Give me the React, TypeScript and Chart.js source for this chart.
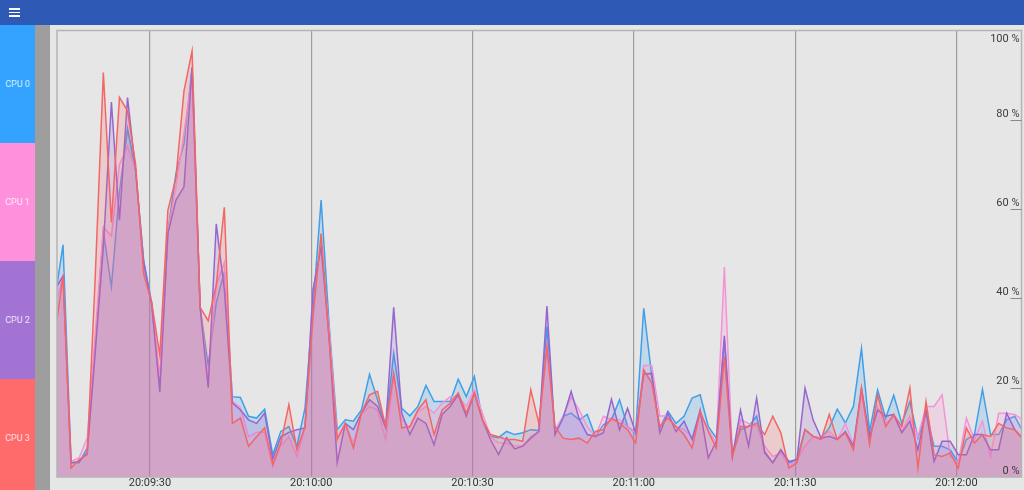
import React, { useEffect, useRef } from 'react';
import { Chart, registerables } from 'chart.js';

Chart.register(...registerables);

// ---- data ----
const CPU_LABELS = ['CPU 0', 'CPU 1', 'CPU 2', 'CPU 3'];
// sample times: seconds after 20:09:00, one sample every 1.5 s
const SAMPLE_START = 12.34;
const SAMPLE_STEP = 1.5;
const X_MIN = 12.72;
const X_MAX = 192.1;
const X_TICK_SECONDS = [30, 60, 90, 120, 150, 180];
const X_TICK_LABELS = ['20:09:30', '20:10:00', '20:10:30', '20:11:00', '20:11:30', '20:12:00'];
const Y_TICKS = [0, 20, 40, 60, 80, 100];
const Y_TICK_LABELS = ['0 %', '20 %', '40 %', '60 %', '80 %', '100 %'];

const cpu0 = [
  40, 52, 3.2, 3.2, 6.5, 30, 55, 42.6, 64, 78,
  68.6, 48.5, 39, 21, 55, 68, 74.6, 91.7, 38, 25,
  39, 46, 18, 17.8, 13.6, 13.2, 15.2, 5, 10.2, 11.3,
  6.9, 15.4, 38, 62, 34, 10.6, 12.8, 12.5, 15, 23,
  17.3, 11.3, 27.7, 15.4, 13.7, 15.8, 20.5, 16.9, 16.9, 16.9,
  21.9, 18, 22.5, 12.8, 9.1, 8.8, 10.2, 9.5, 9.9, 10.6,
  10.4, 33.7, 9.9, 13.6, 14.3, 12.8, 14, 9.1, 11.7, 12.8,
  17.3, 11.3, 9.9, 37.8, 22.5, 11, 14.7, 12, 13.6, 17.7,
  18.4, 11.3, 8.7, 30.7, 5, 10.6, 11.3, 13.6, 5.8, 3.2,
  6.1, 3.2, 3.9, 10.6, 9.1, 8.7, 11, 15.2, 12.1, 15.8,
  28.8, 10.2, 19.5, 13.2, 18.3, 12, 16.9, 8.7, 14.3, 6.9,
  6.9, 6.1, 3.2, 8.4, 9.5, 19.6, 9.5, 9.5, 12.8, 13.6,
  10.2,
];
const cpu1 = [
  38, 45, 3.5, 4.3, 8.7, 32, 56, 54, 70, 74,
  69, 47, 39, 22.5, 55, 65, 77, 90, 38, 22,
  43, 48, 17, 15.5, 9, 10, 10, 2.4, 7, 9,
  4.6, 11, 42, 51.5, 33, 9, 12, 7.6, 14, 15.8,
  15, 8.4, 22.5, 13, 11, 14.5, 15.8, 14.3, 16.5, 18,
  18, 15.8, 19.5, 14.3, 9, 7.6, 7.6, 7, 7, 9.1,
  10.2, 30, 10.5, 13.6, 18, 15, 11.3, 9.1, 13.6, 12.8,
  12.8, 11.3, 9.9, 25, 25, 13.6, 13.8, 11.3, 10.6, 9,
  14.3, 10.6, 7.6, 47, 4.6, 12.8, 12, 11.3, 6.9, 4.6,
  5.4, 2.5, 3.9, 6.9, 9.1, 8.7, 10.2, 8.4, 12, 7.3,
  18.8, 8.4, 15.8, 12, 13.6, 10.2, 13.6, 9.1, 15.8, 15.8,
  18.4, 4.6, 3.2, 13.2, 8.4, 12.5, 4.6, 14.3, 14.3, 14,
  12.8,
];
const cpu2 = [
  42, 45, 3.2, 3.5, 5.4, 28, 51.5, 84, 57.5, 85,
  68.6, 48, 38.5, 19, 54.5, 62, 65, 91.7, 38, 20,
  56.7, 42, 16.6, 15, 12.8, 12, 14.3, 4, 9, 10,
  10.6, 11, 42, 51.5, 31, 3.2, 12, 10.6, 14.3, 17.3,
  15.8, 11, 38, 14.3, 9.5, 13.2, 12, 7.2, 14, 15.8,
  18.4, 13.6, 18.8, 12.8, 8.4, 5, 8.8, 6.3, 6.9, 8.7,
  10.2, 38.3, 9.5, 13.2, 19.2, 13, 9.5, 9.1, 9.9, 17.4,
  10.6, 15.4, 9.9, 23, 23.2, 9.9, 14.3, 10.2, 12.5, 8.4,
  15, 4.3, 8, 31.6, 4.6, 15, 6.9, 17.7, 5.4, 3.2,
  6.1, 3.5, 3.9, 19.9, 12.8, 8.7, 9.1, 8.4, 10.2, 6.9,
  19.9, 9.1, 15, 13.6, 14, 9.9, 12.5, 6.1, 15, 3.5,
  8, 8, 5, 5, 9.5, 9.5, 6.1, 6.1, 14.3, 10.6,
  8.7,
];
const cpu3 = [
  32, 45, 2, 3.9, 5, 45, 90.6, 57, 85, 82,
  70, 45.5, 39, 27.3, 59.7, 67, 86.5, 95.4, 38, 35,
  43, 60.4, 12, 13.2, 6.9, 9, 11, 2.8, 7.6, 16.2,
  6.1, 11.3, 36, 54.5, 30.7, 8.4, 12, 6.5, 14.3, 18.4,
  19.2, 11.3, 23.2, 11, 11.3, 15, 17.3, 9.5, 15, 16.5,
  18.8, 14.3, 18.8, 12.8, 9.5, 9, 8.4, 8.4, 8, 19.5,
  12, 29, 11.3, 8.7, 8.4, 8.7, 7.6, 10.2, 10.6, 13.2,
  12, 10.6, 7.6, 24, 21, 11.3, 13.2, 11.3, 9.5, 6.5,
  14.7, 10.2, 6.5, 27, 4.6, 11.3, 11.3, 12, 9.5, 13.6,
  9.9, 2, 3.2, 10.6, 9.1, 8.4, 14, 8.4, 9.9, 6.1,
  19.9, 7.3, 18.4, 11.3, 14, 11.3, 19.9, 2, 16.9, 5,
  4.6, 5.4, 2, 11, 7.6, 9.5, 9.1, 12, 11, 10.6,
  8.4,
];

const SERIES = [cpu0, cpu1, cpu2, cpu3];
const LINE_COLORS = ['#3f9fe8', '#f394d6', '#9466d0', '#f26666'];
const FILL_COLORS = [
  'rgba(51,160,240,0.2)',
  'rgba(255,136,216,0.2)',
  'rgba(154,102,208,0.2)',
  'rgba(255,102,102,0.2)',
];
const LEGEND_COLORS = ['#33a3ff', '#ff90dc', '#a373d4', '#ff6a6a'];

const FONT = 'Roboto, "Noto Sans", sans-serif';

const framePlugin = {
  id: 'frame',
  afterDraw(chart: any) {
    const { ctx, chartArea } = chart;
    const y = chart.scales.y;
    ctx.save();
    ctx.strokeStyle = '#b4b4b4';
    ctx.lineWidth = 1.5;
    ctx.strokeRect(chartArea.left, chartArea.top, chartArea.right - chartArea.left, chartArea.bottom - chartArea.top);
    ctx.strokeStyle = '#8a8a8a';
    ctx.lineWidth = 1;
    ctx.font = `11px ${FONT}`;
    ctx.fillStyle = '#3c3c3c';
    ctx.textAlign = 'right';
    Y_TICKS.forEach((v, i) => {
      const py = y.getPixelForValue(v);
      if (v !== 0 && v !== 100) {
        const ly = Math.round(py) + 0.5;
        ctx.beginPath();
        ctx.moveTo(chartArea.right - 11, ly);
        ctx.lineTo(chartArea.right, ly);
        ctx.stroke();
      }
      if (v === 100) {
        ctx.textBaseline = 'top';
        ctx.fillText(Y_TICK_LABELS[i], chartArea.right - 2, py + 3);
      } else {
        ctx.textBaseline = 'bottom';
        ctx.fillText(Y_TICK_LABELS[i], chartArea.right - 2, py - 0.5);
      }
    });
    ctx.restore();
  },
};

function CpuChart() {
  const ref = useRef<HTMLCanvasElement | null>(null);
  useEffect(() => {
    if (!ref.current) return;
    const datasets = SERIES.map((values, i) => ({
      label: CPU_LABELS[i],
      data: values.map((v, j) => ({ x: SAMPLE_START + SAMPLE_STEP * j, y: v })),
      borderColor: LINE_COLORS[i],
      backgroundColor: FILL_COLORS[i],
      borderWidth: 1.5,
      fill: 'origin',
      pointRadius: 0,
      tension: 0,
      order: 3 - i,
    }));
    const chart = new Chart(ref.current, {
      type: 'line',
      data: { datasets },
      plugins: [framePlugin],
      options: {
        responsive: false,
        animation: false,
        maintainAspectRatio: false,
        layout: { padding: { left: 7, top: 5.5, right: 2.5, bottom: 0 } },
        plugins: { legend: { display: false }, tooltip: { enabled: false } },
        scales: {
          x: {
            type: 'linear',
            min: X_MIN,
            max: X_MAX,
            afterBuildTicks: (scale: any) => {
              scale.ticks = X_TICK_SECONDS.map((v) => ({ value: v }));
            },
            ticks: {
              autoSkip: false,
              maxRotation: 0,
              padding: 1,
              color: '#333333',
              font: { family: FONT, size: 11, lineHeight: 1 },
              callback: (value: any) => X_TICK_LABELS[X_TICK_SECONDS.indexOf(Number(value))] ?? '',
            },
            grid: { color: '#9c9c9c', lineWidth: 1.2, drawTicks: false },
            border: { display: false },
          },
          y: {
            display: false,
            position: 'right',
            min: 0,
            max: 100,
          },
        },
      },
    });
    return () => chart.destroy();
  }, []);
  return (
    <canvas
      ref={ref}
      width={974}
      height={465}
      style={{ position: 'absolute', left: 50, top: 25, width: 974, height: 465, display: 'block' }}
    />
  );
}

export default function App() {
  return (
    <div
      style={{
        position: 'absolute',
        left: 0,
        top: 0,
        width: 1024,
        height: 490,
        overflow: 'hidden',
        background: '#e6e6e6',
        fontFamily: FONT,
      }}
    >
      <div style={{ position: 'absolute', left: 0, top: 0, width: 1024, height: 25, background: '#2e5ab6' }}>
        {[8, 11.5, 15].map((t) => (
          <div key={t} style={{ position: 'absolute', left: 9, top: t, width: 11, height: 1.6, background: '#ffffff' }} />
        ))}
      </div>
      {CPU_LABELS.map((name, i) => (
        <div
          key={name}
          style={{
            position: 'absolute',
            left: 0,
            top: 25 + i * 118,
            width: 35,
            height: 118,
            background: LEGEND_COLORS[i],
            color: 'rgba(255,255,255,0.8)',
            fontSize: 9,
            display: 'flex',
            alignItems: 'center',
            justifyContent: 'center',
          }}
        >
          {name}
        </div>
      ))}
      <div style={{ position: 'absolute', left: 35, top: 25, width: 15, height: 465, background: '#9e9e9e' }} />
      <CpuChart />
    </div>
  );
}
